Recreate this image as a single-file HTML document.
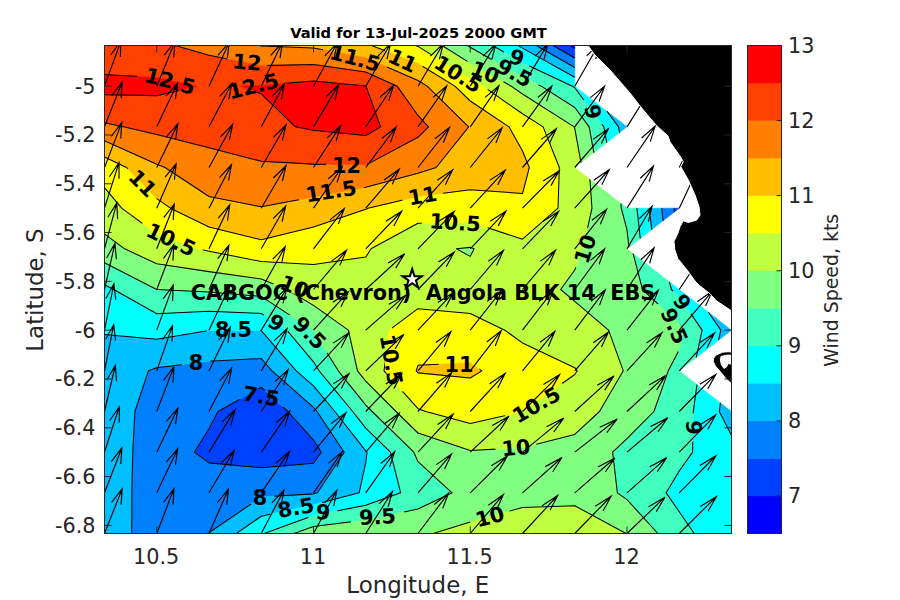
<!DOCTYPE html>
<html><head><meta charset="utf-8"><title>Wind Speed</title>
<style>html,body{margin:0;padding:0;background:#fff;overflow:hidden}body{width:900px;height:600px;position:relative}</style></head>
<body>
<svg width="900" height="600" viewBox="0 0 900 600" style="position:absolute;left:0;top:0;font-family:'DejaVu Sans','Liberation Sans',sans-serif">
<defs><clipPath id="ax"><rect x="104.5" y="45.5" width="627" height="488"/></clipPath>
<mask id="lm" maskUnits="userSpaceOnUse" x="0" y="0" width="900" height="600"><rect x="0" y="0" width="900" height="600" fill="#fff"/><rect x="137" y="75" width="66" height="13" transform="rotate(15 170 81.5)" fill="#000"/><rect x="220.5" y="80" width="66" height="13" transform="rotate(-14 253.5 86.5)" fill="#000"/><rect x="226.5" y="56" width="41" height="13" transform="rotate(5 247 62.5)" fill="#000"/><rect x="322" y="52" width="66" height="13" transform="rotate(15 355 58.5)" fill="#000"/><rect x="382" y="54.5" width="41" height="13" transform="rotate(25 402.5 61)" fill="#000"/><rect x="425" y="67.9" width="66" height="13" transform="rotate(32 458 74.4)" fill="#000"/><rect x="464.5" y="66.1" width="41" height="13" transform="rotate(22 485 72.6)" fill="#000"/><rect x="487.65" y="66.7" width="53.5" height="13" transform="rotate(28 514.4 73.2)" fill="#000"/><rect x="502.55" y="51.5" width="28.5" height="13" transform="rotate(20 516.8 58)" fill="#000"/><rect x="578.45" y="105.5" width="28.5" height="13" transform="rotate(75 592.7 112)" fill="#000"/><rect x="326" y="159" width="41" height="13" transform="rotate(0 346.5 165.5)" fill="#000"/><rect x="298" y="185" width="66" height="13" transform="rotate(-9 331 191.5)" fill="#000"/><rect x="122" y="177" width="41" height="13" transform="rotate(45 142.5 183.5)" fill="#000"/><rect x="402" y="189.5" width="41" height="13" transform="rotate(-10 422.5 196)" fill="#000"/><rect x="138" y="233.5" width="66" height="13" transform="rotate(25 171 240)" fill="#000"/><rect x="422" y="216.3" width="66" height="13" transform="rotate(4 455 222.8)" fill="#000"/><rect x="565" y="242.5" width="41" height="13" transform="rotate(-72 585.5 249)" fill="#000"/><rect x="274" y="280.5" width="41" height="13" transform="rotate(22 294.5 287)" fill="#000"/><rect x="261.75" y="316.5" width="28.5" height="13" transform="rotate(30 276 323)" fill="#000"/><rect x="282.75" y="326.5" width="53.5" height="13" transform="rotate(45 309.5 333)" fill="#000"/><rect x="206.75" y="323.5" width="53.5" height="13" transform="rotate(0 233.5 330)" fill="#000"/><rect x="181.75" y="356" width="28.5" height="13" transform="rotate(0 196 362.5)" fill="#000"/><rect x="234.25" y="390" width="53.5" height="13" transform="rotate(10 261 396.5)" fill="#000"/><rect x="358" y="353.5" width="66" height="13" transform="rotate(80 391 360)" fill="#000"/><rect x="438.5" y="358" width="41" height="13" transform="rotate(0 459 364.5)" fill="#000"/><rect x="503.5" y="398.5" width="66" height="13" transform="rotate(-30 536.5 405)" fill="#000"/><rect x="495.5" y="441.5" width="41" height="13" transform="rotate(-5 516 448)" fill="#000"/><rect x="469.5" y="510.5" width="41" height="13" transform="rotate(-15 490 517)" fill="#000"/><rect x="350.75" y="510.5" width="53.5" height="13" transform="rotate(-3 377.5 517)" fill="#000"/><rect x="308.75" y="506" width="28.5" height="13" transform="rotate(5 323 512.5)" fill="#000"/><rect x="269.25" y="501.5" width="53.5" height="13" transform="rotate(-10 296 508)" fill="#000"/><rect x="245.75" y="491" width="28.5" height="13" transform="rotate(0 260 497.5)" fill="#000"/><rect x="678.25" y="421" width="28.5" height="13" transform="rotate(90 692.5 427.5)" fill="#000"/><rect x="667.75" y="296" width="28.5" height="13" transform="rotate(55 682 302.5)" fill="#000"/><rect x="647.25" y="319.5" width="53.5" height="13" transform="rotate(66 674 326)" fill="#000"/></mask></defs>
<rect x="0" y="0" width="900" height="600" fill="#fff"/>
<g clip-path="url(#ax)">
<g><path fill="#0000ff" stroke="#0000ff" stroke-width="0.6" fill-rule="evenodd" d="M569.96 45.5L574.75 45.5L574.75 48.25L569.96 45.5Z"/><path fill="#0040ff" stroke="#0040ff" stroke-width="0.6" fill-rule="evenodd" d="M553.13 45.5L569.96 45.5L574.75 48.25L574.75 57.92L553.13 45.5ZM674.04 208.17L679.25 208.17L674.45 211.9L674.04 208.17ZM218.05 411.5L261.25 387.2L287.84 411.5L313.5 440.04L321.29 452.17L313.5 463.29L261.25 467.69L209 462.87L194.33 452.17L209 428.71L218.05 411.5Z"/><path fill="#0080ff" stroke="#0080ff" stroke-width="0.6" fill-rule="evenodd" d="M536.3 45.5L553.13 45.5L574.75 57.92L574.75 67.58L536.3 45.5ZM661.67 208.17L674.04 208.17L674.45 211.9L663.07 220.76L661.67 208.17ZM148.42 370.83L156.75 367.77L209 361.33L261.25 358.52L271.96 370.83L313.5 407.28L317.03 411.5L344.15 452.17L317.44 492.83L313.5 493.86L261.25 497.02L209 532.73L207.15 533.5L156.75 533.5L131.68 533.5L131.89 492.83L132.75 452.17L134.94 411.5L148.42 370.83ZM261.25 387.2L218.05 411.5L209 428.71L194.33 452.17L209 462.87L261.25 467.69L313.5 463.29L321.29 452.17L313.5 440.04L287.84 411.5L261.25 387.2Z"/><path fill="#00bfff" stroke="#00bfff" stroke-width="0.6" fill-rule="evenodd" d="M517.94 45.5L522.5 45.5L536.3 45.5L574.75 67.58L574.75 77.25L522.5 48.14L517.94 45.5ZM606.89 111.18L627 126.83L619.58 132.61L618.53 126.83L606.89 111.18ZM649.31 208.17L661.67 208.17L663.07 220.76L651.69 229.62L649.31 208.17ZM708.43 312.21L731.5 330.17L718.6 340.21L720.78 330.17L708.43 312.21ZM104.5 370.83L104.5 334.49L156.75 339.24L209 330.49L261.25 330.55L296.28 370.83L313.5 385.94L334.86 411.5L365.75 450.92L367.03 452.17L365.75 462.6L359.12 492.83L313.5 504.72L261.25 516.21L236.4 533.5L209 533.5L207.15 533.5L209 532.73L261.25 497.02L313.5 493.86L317.44 492.83L344.15 452.17L317.03 411.5L313.5 407.28L271.96 370.83L261.25 358.52L209 361.33L156.75 367.77L148.42 370.83L134.94 411.5L132.75 452.17L131.89 492.83L131.68 533.5L104.5 533.5L104.5 492.83L104.5 452.17L104.5 411.5L104.5 370.83ZM720.48 402.92L731.5 411.5L731.5 435.61L719.29 411.5L720.48 402.92Z"/><path fill="#00ffff" stroke="#00ffff" stroke-width="0.6" fill-rule="evenodd" d="M492.68 45.5L517.94 45.5L522.5 48.14L574.75 77.25L574.75 86.17L606.89 111.18L618.53 126.83L619.58 132.61L606.72 142.62L603.84 126.83L574.75 87.71L572.33 86.17L522.5 62.75L492.68 45.5ZM636.94 208.17L649.31 208.17L651.69 229.62L640.31 238.47L636.94 208.17ZM104.5 289.5L104.5 284.78L113.7 289.5L156.75 313.7L209 311.15L261.25 313.4L286.83 330.17L313.5 361.84L319.1 370.83L352.69 411.5L365.75 428.17L390.42 452.17L400.67 492.83L365.75 505.24L313.5 515.58L264.21 533.5L261.25 533.5L236.4 533.5L261.25 516.21L313.5 504.72L359.12 492.83L365.75 462.6L367.03 452.17L365.75 450.92L334.86 411.5L313.5 385.94L296.28 370.83L261.25 330.55L209 330.49L156.75 339.24L104.5 334.49L104.5 330.17L104.5 289.5ZM669.38 281.82L679.25 289.5L708.43 312.21L720.78 330.17L718.6 340.21L696.18 357.66L702.15 330.17L679.25 296.88L671.38 289.5L669.38 281.82ZM696.99 384.64L720.48 402.92L719.29 411.5L731.5 435.61L731.5 452.17L731.5 492.83L731.5 533.5L694.2 533.5L679.25 511.72L666.15 492.83L679.25 471.06L692.6 452.17L693.29 411.5L696.99 384.64Z"/><path fill="#40ffbf" stroke="#40ffbf" stroke-width="0.6" fill-rule="evenodd" d="M467.4 45.5L470.25 45.5L492.68 45.5L522.5 62.75L572.33 86.17L574.75 87.71L603.84 126.83L606.72 142.62L593.86 152.63L589.16 126.83L574.75 107.46L541.23 86.17L522.5 77.37L470.25 47.28L467.4 45.5ZM620.92 203.43L627 208.17L636.94 208.17L640.31 238.47L628.93 247.33L627 229.95L621.27 208.17L620.92 203.43ZM104.5 284.78L104.5 262.76L156.67 289.5L156.75 289.54L209 291.93L261.25 296.41L312.77 330.17L313.5 331.04L338.29 370.83L365.75 405.1L372.13 411.5L413.81 452.17L418 461.72L452.1 492.83L418 508.92L365.75 520L313.5 526.44L294.09 533.5L264.21 533.5L313.5 515.58L365.75 505.24L400.67 492.83L390.42 452.17L365.75 428.17L352.69 411.5L319.1 370.83L313.5 361.84L286.83 330.17L261.25 313.4L209 311.15L156.75 313.7L113.7 289.5L104.5 284.78ZM633.15 253.62L669.38 281.82L671.38 289.5L679.25 296.88L702.15 330.17L696.18 357.66L679.25 370.83L696.99 384.64L693.29 411.5L692.6 452.17L679.25 471.06L666.15 492.83L679.25 511.72L694.2 533.5L679.25 533.5L657.85 533.5L627 499.59L617.39 492.83L612.61 452.17L627 438.62L653.94 411.5L668.26 370.83L679.25 349.81L683.52 330.17L679.25 323.97L642.5 289.5L633.15 253.62Z"/><path fill="#80ff80" stroke="#80ff80" stroke-width="0.6" fill-rule="evenodd" d="M442.01 45.5L467.4 45.5L470.25 47.28L522.5 77.37L541.23 86.17L574.75 107.46L589.16 126.83L593.86 152.63L581 162.64L574.75 128.37L574.16 126.83L522.5 94.01L511.24 86.17L470.25 63.16L442.01 45.5ZM589.85 179.25L620.92 203.43L621.27 208.17L627 229.95L628.93 247.33L627 248.83L633.15 253.62L642.5 289.5L679.25 323.97L683.52 330.17L679.25 349.81L668.26 370.83L653.94 411.5L627 438.62L612.61 452.17L617.39 492.83L627 499.59L657.85 533.5L627 533.5L626.13 533.5L574.75 505.74L522.5 507.49L470.25 522.12L433.13 533.5L418 533.5L365.75 533.5L313.5 533.5L294.09 533.5L313.5 526.44L365.75 520L418 508.92L452.1 492.83L418 461.72L413.81 452.17L372.13 411.5L365.75 405.1L338.29 370.83L313.5 331.04L312.77 330.17L261.25 296.41L209 291.93L156.75 289.54L156.67 289.5L104.5 262.76L104.5 248.83L104.5 234.04L124.7 248.83L156.75 263.83L209 271.64L261.25 279.08L286.81 289.5L313.5 305.33L348.34 330.17L357.48 370.83L365.75 381.15L396.01 411.5L418 433L470.25 450.46L522.5 447.72L574.75 434.39L599.49 411.5L623.31 370.83L608.5 330.17L574.75 301.36L560.64 289.5L574.75 270.01L582.99 248.83L592 208.17L589.85 179.25ZM456.4 248.83L470.25 247.37L474.1 248.83L470.25 256.37L456.4 248.83Z"/><path fill="#bfff40" stroke="#bfff40" stroke-width="0.6" fill-rule="evenodd" d="M415.62 45.5L418 45.5L442.01 45.5L470.25 63.16L511.24 86.17L522.5 94.01L574.16 126.83L574.75 128.37L581 162.64L574.75 167.5L589.85 179.25L592 208.17L582.99 248.83L574.75 270.01L560.64 289.5L574.75 301.36L608.5 330.17L623.31 370.83L599.49 411.5L574.75 434.39L522.5 447.72L470.25 450.46L418 433L396.01 411.5L365.75 381.15L357.48 370.83L348.34 330.17L313.5 305.33L286.81 289.5L261.25 279.08L209 271.64L156.75 263.83L124.7 248.83L104.5 234.04L104.5 208.17L104.5 187.69L121.68 208.17L156.75 234.04L197.71 248.83L209 251.18L261.25 261.51L313.5 264.4L365.75 257.1L371 248.83L418 223.24L470.25 222.1L522.5 239.19L558.02 208.17L559.33 167.5L543.14 126.83L522.5 113.72L482.94 86.17L470.25 79.05L418 46.42L415.62 45.5ZM418 308.69L389.14 330.17L384.03 370.83L418 408.69L425.82 411.5L470.25 423.53L522.5 411.59L522.74 411.5L574.75 374.55L577.26 370.83L574.75 367.7L522.5 342.92L504.79 330.17L470.25 313.45L418 308.69ZM470.25 247.37L456.4 248.83L470.25 256.37L474.1 248.83L470.25 247.37ZM433.13 533.5L470.25 522.12L522.5 507.49L574.75 505.74L626.13 533.5L574.75 533.5L522.5 533.5L470.25 533.5L433.13 533.5Z"/><path fill="#ffff00" stroke="#ffff00" stroke-width="0.6" fill-rule="evenodd" d="M371.57 45.5L415.62 45.5L418 46.42L470.25 79.05L482.94 86.17L522.5 113.72L543.14 126.83L559.33 167.5L558.02 208.17L522.5 239.19L470.25 222.1L418 223.24L371 248.83L365.75 257.1L313.5 264.4L261.25 261.51L209 251.18L197.71 248.83L156.75 234.04L121.68 208.17L104.5 187.69L104.5 167.5L104.5 156.96L126.52 167.5L156.75 198.67L170.41 208.17L209 227.02L261.25 239.77L313.5 227L365.75 209.17L368.02 208.17L418 196.43L470.25 189.65L522.5 193.52L529.33 167.5L522.5 151.04L509 126.83L470.25 101L454.93 86.17L418 63.48L371.57 45.5ZM389.14 330.17L418 308.69L470.25 313.45L504.79 330.17L522.5 342.92L574.75 367.7L577.26 370.83L574.75 374.55L522.74 411.5L522.5 411.59L470.25 423.53L425.82 411.5L418 408.69L384.03 370.83L389.14 330.17ZM418 365.32L416.16 370.83L418 372.89L470.25 378L481.82 370.83L470.25 362.79L418 365.32Z"/><path fill="#ffbf00" stroke="#ffbf00" stroke-width="0.6" fill-rule="evenodd" d="M259.53 45.5L261.25 45.5L313.5 45.5L365.75 45.5L371.57 45.5L418 63.48L454.93 86.17L470.25 101L509 126.83L522.5 151.04L529.33 167.5L522.5 193.52L470.25 189.65L418 196.43L368.02 208.17L365.75 209.17L313.5 227L261.25 239.77L209 227.02L170.41 208.17L156.75 198.67L126.52 167.5L104.5 156.96L104.5 140.69L156.75 164.21L165.07 167.5L209 196.51L261.25 206.84L313.5 196.98L365.75 187.21L418 173.23L436.16 167.5L468.66 126.83L427.17 86.17L418 80.54L365.75 57.78L313.5 47.97L261.25 45.97L259.53 45.5ZM416.16 370.83L418 365.32L470.25 362.79L481.82 370.83L470.25 378L418 372.89L416.16 370.83Z"/><path fill="#ff8000" stroke="#ff8000" stroke-width="0.6" fill-rule="evenodd" d="M175.12 45.5L209 45.5L259.53 45.5L261.25 45.97L313.5 47.97L365.75 57.78L418 80.54L427.17 86.17L468.66 126.83L436.16 167.5L418 173.23L365.75 187.21L313.5 196.98L261.25 206.84L209 196.51L165.07 167.5L156.75 164.21L104.5 140.69L104.5 126.83L104.5 122.68L123.56 126.83L156.75 134.51L209 147.65L261.25 161.31L313.5 164.11L365.75 165.11L418 137.28L428.47 126.83L418 115.44L397.13 86.17L365.75 71.92L313.5 64.46L261.25 65.63L209 55.34L175.12 45.5Z"/><path fill="#ff4000" stroke="#ff4000" stroke-width="0.6" fill-rule="evenodd" d="M104.5 45.5L156.75 45.5L175.12 45.5L209 55.34L261.25 65.63L313.5 64.46L365.75 71.92L397.13 86.17L418 115.44L428.47 126.83L418 137.28L365.75 165.11L313.5 164.11L261.25 161.31L209 147.65L156.75 134.51L123.56 126.83L104.5 122.68L104.5 94.7L156.75 95.64L196.7 86.17L156.75 77.56L104.5 74.43L104.5 45.5ZM261.25 85.28L240.69 86.17L261.25 93.77L295.45 126.83L313.5 130.32L365.75 135.54L380.63 126.83L365.98 86.17L365.75 86.06L313.5 80.95L261.25 85.28Z"/><path fill="#ff0000" stroke="#ff0000" stroke-width="0.6" fill-rule="evenodd" d="M104.5 86.17L104.5 74.43L156.75 77.56L196.7 86.17L156.75 95.64L104.5 94.7L104.5 86.17ZM240.69 86.17L261.25 85.28L313.5 80.95L365.75 86.06L365.98 86.17L380.63 126.83L365.75 135.54L313.5 130.32L295.45 126.83L261.25 93.77L240.69 86.17Z"/></g>
<g mask="url(#lm)"><path fill="none" stroke="#000" stroke-width="1.05" stroke-linejoin="round" d="M569.96 45.5L574.75 48.25M553.13 45.5L574.75 57.92M674.04 208.17L674.45 211.9M261.25 387.2L218.05 411.5L209 428.71L194.33 452.17L209 462.87L261.25 467.69L313.5 463.29L321.29 452.17L313.5 440.04L287.84 411.5L261.25 387.2M536.3 45.5L574.75 67.58M661.67 208.17L663.07 220.76M207.15 533.5L209 532.73L261.25 497.02L313.5 493.86L317.44 492.83L344.15 452.17L317.03 411.5L313.5 407.28L271.96 370.83L261.25 358.52L209 361.33L156.75 367.77L148.42 370.83L134.94 411.5L132.75 452.17L131.89 492.83L131.68 533.5M517.94 45.5L522.5 48.14L574.75 77.25M606.89 111.18L618.53 126.83L619.58 132.61M649.31 208.17L651.69 229.62M708.43 312.21L720.78 330.17L718.6 340.21M720.48 402.92L719.29 411.5L731.5 435.61M236.4 533.5L261.25 516.21L313.5 504.72L359.12 492.83L365.75 462.6L367.03 452.17L365.75 450.92L334.86 411.5L313.5 385.94L296.28 370.83L261.25 330.55L209 330.49L156.75 339.24L104.5 334.49M492.68 45.5L522.5 62.75L572.33 86.17L574.75 87.71L603.84 126.83L606.72 142.62M636.94 208.17L640.31 238.47M669.38 281.82L671.38 289.5L679.25 296.88L702.15 330.17L696.18 357.66M696.99 384.64L693.29 411.5L692.6 452.17L679.25 471.06L666.15 492.83L679.25 511.72L694.2 533.5M264.21 533.5L313.5 515.58L365.75 505.24L400.67 492.83L390.42 452.17L365.75 428.17L352.69 411.5L319.1 370.83L313.5 361.84L286.83 330.17L261.25 313.4L209 311.15L156.75 313.7L113.7 289.5L104.5 284.78M467.4 45.5L470.25 47.28L522.5 77.37L541.23 86.17L574.75 107.46L589.16 126.83L593.86 152.63M620.92 203.43L621.27 208.17L627 229.95L628.93 247.33M633.15 253.62L642.5 289.5L679.25 323.97L683.52 330.17L679.25 349.81L668.26 370.83L653.94 411.5L627 438.62L612.61 452.17L617.39 492.83L627 499.59L657.85 533.5M294.09 533.5L313.5 526.44L365.75 520L418 508.92L452.1 492.83L418 461.72L413.81 452.17L372.13 411.5L365.75 405.1L338.29 370.83L313.5 331.04L312.77 330.17L261.25 296.41L209 291.93L156.75 289.54L156.67 289.5L104.5 262.76M442.01 45.5L470.25 63.16L511.24 86.17L522.5 94.01L574.16 126.83L574.75 128.37L581 162.64M589.85 179.25L592 208.17L582.99 248.83L574.75 270.01L560.64 289.5L574.75 301.36L608.5 330.17L623.31 370.83L599.49 411.5L574.75 434.39L522.5 447.72L470.25 450.46L418 433L396.01 411.5L365.75 381.15L357.48 370.83L348.34 330.17L313.5 305.33L286.81 289.5L261.25 279.08L209 271.64L156.75 263.83L124.7 248.83L104.5 234.04M470.25 247.37L456.4 248.83L470.25 256.37L474.1 248.83L470.25 247.37M433.13 533.5L470.25 522.12L522.5 507.49L574.75 505.74L626.13 533.5M415.62 45.5L418 46.42L470.25 79.05L482.94 86.17L522.5 113.72L543.14 126.83L559.33 167.5L558.02 208.17L522.5 239.19L470.25 222.1L418 223.24L371 248.83L365.75 257.1L313.5 264.4L261.25 261.51L209 251.18L197.71 248.83L156.75 234.04L121.68 208.17L104.5 187.69M389.14 330.17L418 308.69L470.25 313.45L504.79 330.17L522.5 342.92L574.75 367.7L577.26 370.83L574.75 374.55L522.74 411.5L522.5 411.59L470.25 423.53L425.82 411.5L418 408.69L384.03 370.83L389.14 330.17M371.57 45.5L418 63.48L454.93 86.17L470.25 101L509 126.83L522.5 151.04L529.33 167.5L522.5 193.52L470.25 189.65L418 196.43L368.02 208.17L365.75 209.17L313.5 227L261.25 239.77L209 227.02L170.41 208.17L156.75 198.67L126.52 167.5L104.5 156.96M416.16 370.83L418 365.32L470.25 362.79L481.82 370.83L470.25 378L418 372.89L416.16 370.83M259.53 45.5L261.25 45.97L313.5 47.97L365.75 57.78L418 80.54L427.17 86.17L468.66 126.83L436.16 167.5L418 173.23L365.75 187.21L313.5 196.98L261.25 206.84L209 196.51L165.07 167.5L156.75 164.21L104.5 140.69M175.12 45.5L209 55.34L261.25 65.63L313.5 64.46L365.75 71.92L397.13 86.17L418 115.44L428.47 126.83L418 137.28L365.75 165.11L313.5 164.11L261.25 161.31L209 147.65L156.75 134.51L123.56 126.83L104.5 122.68M104.5 74.43L156.75 77.56L196.7 86.17L156.75 95.64L104.5 94.7M240.69 86.17L261.25 85.28L313.5 80.95L365.75 86.06L365.98 86.17L380.63 126.83L365.75 135.54L313.5 130.32L295.45 126.83L261.25 93.77L240.69 86.17"/></g>
<path fill="none" stroke="#000" stroke-width="1.15" stroke-linejoin="miter" d="M104.5 45.5L119.06 0.04M109.44 14.11L119.06 0.04L119.08 15.98M156.75 45.5L173.01 0.39M162.86 14.23L173.01 0.39L172.43 16.32M209 45.5L226.88 0.77M216.24 14.38L226.88 0.77L225.72 16.68M261.25 45.5L280.52 1.12M269.46 14.53L280.52 1.12L278.87 17M313.5 45.5L334.44 1.58M322.88 14.73L334.44 1.58L332.19 17.42M365.75 45.5L387.64 1.86M375.79 14.86L387.64 1.86L385.04 17.67M418 45.5L440.17 1.95M428.24 14.9L440.17 1.95L437.47 17.74M470.25 45.5L492.5 1.97M480.55 14.91L492.5 1.97L489.77 17.76M522.5 45.5L544.33 1.84M532.5 14.85L544.33 1.84L541.75 17.65M574.75 45.5L595.56 1.54M584.03 14.71L595.56 1.54L593.35 17.38M104.5 86.17L120.96 41.11M110.75 54.92L120.96 41.11L120.31 57.03M156.75 86.17L175.01 41.53M164.25 55.09L175.01 41.53L173.72 57.43M209 86.17L229.37 42.08M217.97 55.32L229.37 42.08L227.32 57.94M261.25 86.17L282.39 42.3M270.77 55.42L282.39 42.3L280.07 58.14M313.5 86.17L337.18 43.1M324.8 55.79L337.18 43.1L333.93 58.83M365.75 86.17L390.65 43.51M377.91 55.99L390.65 43.51L386.95 59.19M418 86.17L443.25 43.64M430.41 56.05L443.25 43.64L439.42 59.29M470.25 86.17L495.87 43.77M482.92 56.12L495.87 43.77L491.91 59.41M522.5 86.17L547.98 43.72M535.07 56.09L547.98 43.72L544.07 59.37M574.75 86.17L599.36 43.41M586.71 55.94L599.36 43.41L595.77 59.1M104.5 126.83L122.2 82.06M111.61 95.7L122.2 82.06L121.1 97.97M156.75 126.83L177.61 82.89M166.07 96.05L177.61 82.89L175.39 98.73M209 126.83L231.75 83.46M219.65 96.31L231.75 83.46L228.84 99.24M261.25 126.83L284.49 83.62M272.24 96.39L284.49 83.62L281.4 99.37M313.5 126.83L338.91 84.36M326.02 96.75L338.91 84.36L335.03 100.01M365.75 126.83L393.56 85.29M379.98 97.21L393.56 85.29L388.79 100.78M418 126.83L446.82 85.71M432.95 97.43L446.82 85.71L441.67 101.13M470.25 126.83L498.97 85.66M485.13 97.41L498.97 85.66L493.86 101.09M522.5 126.83L551.88 85.95M537.85 97.55L551.88 85.95L546.52 101.33M574.75 126.83L604.56 86.13M590.41 97.65L604.56 86.13L599.03 101.48M627 126.83L653.41 84.73M640.23 96.93L653.41 84.73L649.15 100.32M104.5 167.5L121.74 122.61M111.29 136.32L121.74 122.61L120.81 138.53M156.75 167.5L177.96 123.66M166.31 136.76L177.96 123.66L175.61 139.49M209 167.5L232.64 124.41M220.27 137.12L232.64 124.41L229.4 140.15M261.25 167.5L286 124.79M273.3 137.3L286 124.79L282.36 140.48M313.5 167.5L340.63 125.68M327.25 137.74L340.63 125.68L336.11 141.22M365.75 167.5L396.16 127.07M381.84 138.46L396.16 127.07L390.41 142.37M418 167.5L449.45 127.56M434.84 138.72L449.45 127.56L443.31 142.76M470.25 167.5L502.17 127.78M487.42 138.84L502.17 127.78L495.85 142.94M522.5 167.5L556.33 128.75M541.06 139.37L556.33 128.75L549.27 143.71M574.75 167.5L608.37 128.64M593.16 139.31L608.37 128.64L601.39 143.62M627 167.5L655.22 126.12M641.52 137.96L655.22 126.12L650.29 141.59M679.25 167.5L701.06 123.84M689.24 136.84L701.06 123.84L698.49 139.65M104.5 208.17L119.01 162.7M109.4 176.77L119.01 162.7L119.04 178.64M156.75 208.17L176.15 163.82M165.05 177.21L176.15 163.82L174.45 179.7M209 208.17L231.43 164.69M219.42 177.6L231.43 164.69L228.64 180.48M261.25 208.17L286.07 165.49M273.35 177.98L286.07 165.49L282.4 181.16M313.5 208.17L342.18 166.98M328.35 178.73L342.18 166.98L337.08 182.41M365.75 208.17L399.24 169.24M384.06 179.93L399.24 169.24L392.31 184.23M418 208.17L452.68 169.88M437.18 180.29L452.68 169.88L445.3 184.74M470.25 208.17L505.26 170.06M489.67 180.39L505.26 170.06L497.75 184.88M522.5 208.17L559.12 170.99M543.1 180.91L559.12 170.99L550.98 185.61M574.75 208.17L609.2 169.75M593.76 180.22L609.2 169.75L601.9 184.64M627 208.17L653.46 166.09M640.27 178.28L653.46 166.09L649.19 181.67M679.25 208.17L699.85 164.15M688.39 177.35L699.85 164.15L697.72 180M104.5 248.83L116.8 202.97M107.88 217.32L116.8 202.97L117.6 218.9M156.75 248.83L174.25 204.01M163.72 217.68L174.25 204.01L173.23 219.92M209 248.83L229.74 204.85M218.23 218.04L229.74 204.85L227.56 220.7M261.25 248.83L285.68 206.02M273.08 218.58L285.68 206.02L282.16 221.72M313.5 248.83L344.32 208.59M329.89 219.89L344.32 208.59L338.42 223.85M365.75 248.83L401.71 211.26M385.86 221.35L401.71 211.26L393.82 225.97M418 248.83L454.26 211.44M438.33 221.45L454.26 211.44L446.26 226.11M470.25 248.83L505.96 211.12M490.18 221.27L505.96 211.12L498.17 225.86M522.5 248.83L558.66 211.38M542.76 221.42L558.66 211.38L550.7 226.06M574.75 248.83L606.7 209.13M591.95 220.18L606.7 209.13L600.36 224.28M627 248.83L652.07 206.24M639.28 218.69L652.07 206.24L648.31 221.91M104.5 289.5L114.94 243.36M106.61 257.92L114.94 243.36L116.39 259.26M156.75 289.5L173.81 244.57M163.42 258.3L173.81 244.57L172.94 260.49M209 289.5L228.86 245.28M217.62 258.59L228.86 245.28L227 261.15M261.25 289.5L285.23 246.53M272.76 259.17L285.23 246.53L281.87 262.25M313.5 289.5L346.53 250.33M331.48 261.14L346.53 250.33L339.78 265.38M365.75 289.5L404.71 253.79M388.07 263.07L404.71 253.79L395.64 268.08M418 289.5L454.22 252.08M438.3 262.1L454.22 252.08L446.23 266.75M470.25 289.5L503.4 250.4M488.32 261.17L503.4 250.4L496.61 265.43M522.5 289.5L555.5 250.32M540.45 261.13L555.5 250.32L548.76 265.37M574.75 289.5L604.67 248.85M590.49 260.34L604.67 248.85L599.11 264.19M627 289.5L654.14 247.68M640.75 259.74L654.14 247.68L649.62 263.23M679.25 289.5L706.94 247.9M693.39 259.85L706.94 247.9L702.21 263.41M104.5 330.17L113.92 283.9M105.91 298.56L113.92 283.9L115.71 299.77M156.75 330.17L173.23 285.11M163.02 298.92L173.23 285.11L172.57 301.04M209 330.17L229.57 286.14M218.12 299.35L229.57 286.14L227.45 301.99M261.25 330.17L287.02 287.83M274.03 300.15L287.02 287.83L283 303.46M313.5 330.17L348.38 291.98M332.82 302.35L348.38 291.98L340.92 306.82M365.75 330.17L405.79 295.19M388.87 304.16L405.79 295.19L396.28 309.3M418 330.17L453.51 292.34M437.78 302.54L453.51 292.34L445.8 307.1M470.25 330.17L501.73 290.24M487.11 301.39L501.73 290.24L495.58 305.44M522.5 330.17L553.44 289.98M538.97 301.26L553.44 289.98L547.49 305.23M574.75 330.17L605.37 289.83M590.99 301.18L605.37 289.83L599.54 305.11M627 330.17L658.37 290.18M643.78 301.36L658.37 290.18L652.26 305.39M679.25 330.17L712.34 291.03M697.27 301.82L712.34 291.03L705.57 306.07M731.5 330.17L763.21 290.35M748.53 301.45L763.21 290.35L756.97 305.52M104.5 370.83L113.69 324.53M105.75 339.22L113.69 324.53L115.56 340.4M156.75 370.83L172.49 325.62M162.5 339.53L172.49 325.62L172.09 341.55M209 370.83L230.36 327.03M218.67 340.12L230.36 327.03L227.95 342.86M261.25 370.83L287.1 328.53M274.09 340.83L287.1 328.53L283.06 344.15M313.5 370.83L348.72 332.85M333.07 343.12L348.72 332.85L341.13 347.64M365.75 370.83L403.76 334.51M387.36 344.05L403.76 334.51L395.06 348.93M418 370.83L450.9 331.6M435.88 342.44L450.9 331.6L444.2 346.66M470.25 370.83L501.25 330.67M486.76 341.94L501.25 330.67L495.27 345.92M522.5 370.83L554.9 331.35M540.02 342.3L554.9 331.35L548.39 346.46M574.75 370.83L608.48 332.03M593.24 342.67L608.48 332.03L601.46 347M627 370.83L662.02 332.73M646.42 343.05L662.02 332.73L654.5 347.55M679.25 370.83L714.63 332.93M698.94 343.17L714.63 332.93L706.97 347.71M104.5 411.5L115.29 365.41M106.84 379.93L115.29 365.41L116.61 381.31M156.75 411.5L173.91 366.6M163.48 380.31L173.91 366.6L173 382.52M209 411.5L231.61 368.08M219.55 380.96L231.61 368.08L228.75 383.86M261.25 411.5L288.13 369.58M274.81 381.69L288.13 369.58L283.7 385.14M313.5 411.5L348.98 373.65M333.26 383.86L348.98 373.65L341.28 388.42M365.75 411.5L401.72 373.94M385.87 384.02L401.72 373.94L393.83 388.64M418 411.5L451.6 372.63M436.39 383.3L451.6 372.63L444.63 387.61M470.25 411.5L505.16 373.33M489.59 383.69L505.16 373.33L497.68 388.17M522.5 411.5L559.59 374.61M543.44 384.4L559.59 374.61L551.26 389.16M574.75 411.5L613.92 375.93M597.22 385.15L613.92 375.93L604.76 390.18M627 411.5L665.64 375.58M649.08 384.95L665.64 375.58L656.7 389.92M679.25 411.5L715.84 374.3M699.82 384.23L715.84 374.3L707.71 388.93M731.5 411.5L765.97 373.1M750.53 383.56L765.97 373.1L758.67 387.98M104.5 452.17L119.32 406.76M109.61 420.79L119.32 406.76L119.24 422.7M156.75 452.17L177.83 408.29M166.22 421.41L177.83 408.29L175.53 424.12M209 452.17L234.96 409.9M221.91 422.18L234.96 409.9L230.87 425.51M261.25 452.17L289.86 410.95M276.05 422.71L289.86 410.95L284.79 426.39M313.5 452.17L345.96 412.71M331.06 423.65L345.96 412.71L339.43 427.82M365.75 452.17L399.2 413.22M384.04 423.92L399.2 413.22L392.29 428.22M418 452.17L453.19 414.16M437.55 424.44L453.19 414.16L445.61 428.96M470.25 452.17L508.84 416.21M492.29 425.6L508.84 416.21L499.92 430.56M522.5 452.17L563.78 418.07M546.55 426.67L563.78 418.07L553.77 431.98M574.75 452.17L617.26 419M599.72 427.21L617.26 419L606.75 432.67M627 452.17L667.79 417.71M650.67 426.46L667.79 417.71L657.98 431.7M679.25 452.17L715.76 414.92M699.76 424.87L715.76 414.92L707.66 429.55M731.5 452.17L765.87 413.71M750.45 424.19L765.87 413.71L758.61 428.61M104.5 492.83L121.81 447.96M111.34 461.66L121.81 447.96L120.85 463.88M156.75 492.83L177.66 448.9M166.1 462.06L177.66 448.9L175.42 464.74M209 492.83L234.3 450.32M221.44 462.73L234.3 450.32L230.45 465.98M261.25 492.83L289.42 451.43M275.73 463.29L289.42 451.43L284.51 466.9M313.5 492.83L342.18 451.65M328.35 463.4L342.18 451.65L337.08 467.08M365.75 492.83L394.7 451.76M380.79 463.46L394.7 451.76L389.5 467.17M418 492.83L451.59 453.96M436.38 464.63L451.59 453.96L444.63 468.94M470.25 492.83L507.42 455.99M491.25 465.76L507.42 455.99L499.06 470.53M522.5 492.83L562.01 457.49M545.23 466.62L562.01 457.49L552.72 471.69M574.75 492.83L614.94 457.96M597.98 466.89L614.94 457.96L605.38 472.05M627 492.83L666.72 457.63M649.88 466.7L666.72 457.63L657.34 471.8M679.25 492.83L716 455.73M699.94 465.61L716 455.73L707.81 470.33M731.5 492.83L766.3 454.61M750.76 464.99L766.3 454.61L758.87 469.46M104.5 533.5L122.18 488.72M111.6 502.36L122.18 488.72L121.09 504.63M156.75 533.5L173.98 488.61M163.53 502.32L173.98 488.61L173.05 504.53M209 533.5L228.43 489.16M217.32 502.55L228.43 489.16L226.72 505.04M261.25 533.5L283.96 490.11M271.86 502.97L283.96 490.11L281.06 505.89M313.5 533.5L336.83 490.31M324.55 503.07L336.83 490.31L333.71 506.06M365.75 533.5L392.43 491.51M379.17 503.65L392.43 491.51L388.08 507.08M418 533.5L448.51 493.12M434.16 504.48L448.51 493.12L442.73 508.4M470.25 533.5L503.46 494.43M488.36 505.19L503.46 494.43L496.64 509.45M522.5 533.5L557.68 495.49M542.04 505.77L557.68 495.49L550.1 510.29M574.75 533.5L611.16 496.19M595.19 506.17L611.16 496.19L603.1 510.84M627 533.5L664.95 497.14M648.57 506.7L664.95 497.14L656.28 511.58M679.25 533.5L716.4 496.64M700.24 506.42L716.4 496.64L708.05 511.19M731.5 533.5L766.94 495.63M751.23 505.85L766.94 495.63L759.26 510.41"/>
<path fill="#000" stroke="#fff" stroke-width="1.0" stroke-linejoin="round" d="M587 44L594 54L610 70L630 93L640 106L656 125L668 136L670 142L680 156L683.3 161.7L680.8 166.7L688.3 180L695 195L699 206.7L700 215L696.7 220L688.3 222.5L683.3 220.8L680 226.7L678 233L674 241.25L674.75 249.5L677.75 258.5L687.5 270.5L695 281L699.5 285.5L710 293.75L716 300.5L725 306.5L731.75 311L736 312L736 40L587 40Z"/>
<path fill="#000" stroke="#fff" stroke-width="1.0" stroke-linejoin="round" d="M713.3 358.7L716 355L722.7 352.2L728 351.7L733 352.2L733 355L726 355.3L721 356.5L720.3 360L721.5 365L724 368.5L726.5 367L728 363.5L733 364.5L733 385L726 378.7L720 371.3L715.3 366L713.3 361.3Z"/>
<g font-weight="bold" font-size="20.8" fill="#000"><text x="170" y="81.5" transform="rotate(15 170 81.5)" text-anchor="middle" dominant-baseline="central">12.5</text><text x="253.5" y="86.5" transform="rotate(-14 253.5 86.5)" text-anchor="middle" dominant-baseline="central">12.5</text><text x="247" y="62.5" transform="rotate(5 247 62.5)" text-anchor="middle" dominant-baseline="central">12</text><text x="355" y="58.5" transform="rotate(15 355 58.5)" text-anchor="middle" dominant-baseline="central">11.5</text><text x="402.5" y="61" transform="rotate(25 402.5 61)" text-anchor="middle" dominant-baseline="central">11</text><text x="458" y="74.4" transform="rotate(32 458 74.4)" text-anchor="middle" dominant-baseline="central">10.5</text><text x="485" y="72.6" transform="rotate(22 485 72.6)" text-anchor="middle" dominant-baseline="central">10</text><text x="514.4" y="73.2" transform="rotate(28 514.4 73.2)" text-anchor="middle" dominant-baseline="central">9.5</text><text x="516.8" y="58" transform="rotate(20 516.8 58)" text-anchor="middle" dominant-baseline="central">9</text><text x="592.7" y="112" transform="rotate(75 592.7 112)" text-anchor="middle" dominant-baseline="central">9</text><text x="346.5" y="165.5" transform="rotate(0 346.5 165.5)" text-anchor="middle" dominant-baseline="central">12</text><text x="331" y="191.5" transform="rotate(-9 331 191.5)" text-anchor="middle" dominant-baseline="central">11.5</text><text x="142.5" y="183.5" transform="rotate(45 142.5 183.5)" text-anchor="middle" dominant-baseline="central">11</text><text x="422.5" y="196" transform="rotate(-10 422.5 196)" text-anchor="middle" dominant-baseline="central">11</text><text x="171" y="240" transform="rotate(25 171 240)" text-anchor="middle" dominant-baseline="central">10.5</text><text x="455" y="222.8" transform="rotate(4 455 222.8)" text-anchor="middle" dominant-baseline="central">10.5</text><text x="585.5" y="249" transform="rotate(-72 585.5 249)" text-anchor="middle" dominant-baseline="central">10</text><text x="294.5" y="287" transform="rotate(22 294.5 287)" text-anchor="middle" dominant-baseline="central">10</text><text x="276" y="323" transform="rotate(30 276 323)" text-anchor="middle" dominant-baseline="central">9</text><text x="309.5" y="333" transform="rotate(45 309.5 333)" text-anchor="middle" dominant-baseline="central">9.5</text><text x="233.5" y="330" transform="rotate(0 233.5 330)" text-anchor="middle" dominant-baseline="central">8.5</text><text x="196" y="362.5" transform="rotate(0 196 362.5)" text-anchor="middle" dominant-baseline="central">8</text><text x="261" y="396.5" transform="rotate(10 261 396.5)" text-anchor="middle" dominant-baseline="central">7.5</text><text x="391" y="360" transform="rotate(80 391 360)" text-anchor="middle" dominant-baseline="central">10.5</text><text x="459" y="364.5" transform="rotate(0 459 364.5)" text-anchor="middle" dominant-baseline="central">11</text><text x="536.5" y="405" transform="rotate(-30 536.5 405)" text-anchor="middle" dominant-baseline="central">10.5</text><text x="516" y="448" transform="rotate(-5 516 448)" text-anchor="middle" dominant-baseline="central">10</text><text x="490" y="517" transform="rotate(-15 490 517)" text-anchor="middle" dominant-baseline="central">10</text><text x="377.5" y="517" transform="rotate(-3 377.5 517)" text-anchor="middle" dominant-baseline="central">9.5</text><text x="323" y="512.5" transform="rotate(5 323 512.5)" text-anchor="middle" dominant-baseline="central">9</text><text x="296" y="508" transform="rotate(-10 296 508)" text-anchor="middle" dominant-baseline="central">8.5</text><text x="260" y="497.5" transform="rotate(0 260 497.5)" text-anchor="middle" dominant-baseline="central">8</text><text x="692.5" y="427.5" transform="rotate(90 692.5 427.5)" text-anchor="middle" dominant-baseline="central">9</text><text x="682" y="302.5" transform="rotate(55 682 302.5)" text-anchor="middle" dominant-baseline="central">9</text><text x="674" y="326" transform="rotate(66 674 326)" text-anchor="middle" dominant-baseline="central">9.5</text></g>
<text x="423" y="299.5" font-weight="bold" font-size="20.8" text-anchor="middle" fill="#000">CABGOC (Chevron)&#160;&#160;Angola BLK 14&#160;&#160;EBS</text>
<path d="M412.2 269.1L414.49 276.15L421.9 276.15L415.91 280.5L418.2 287.55L412.2 283.2L406.2 287.55L408.49 280.5L402.5 276.15L409.91 276.15Z" fill="#fff" stroke="#000" stroke-width="2.0" stroke-linejoin="miter"/>
</g>
<path d="M156.75 533.5V526.5M156.75 45.5V52.5M313.5 533.5V526.5M313.5 45.5V52.5M470.25 533.5V526.5M470.25 45.5V52.5M627 533.5V526.5M627 45.5V52.5M104.5 86.17H111.5M731.5 86.17H724.5M104.5 134.97H111.5M731.5 134.97H724.5M104.5 183.77H111.5M731.5 183.77H724.5M104.5 232.57H111.5M731.5 232.57H724.5M104.5 281.37H111.5M731.5 281.37H724.5M104.5 330.17H111.5M731.5 330.17H724.5M104.5 378.97H111.5M731.5 378.97H724.5M104.5 427.77H111.5M731.5 427.77H724.5M104.5 476.57H111.5M731.5 476.57H724.5M104.5 525.37H111.5M731.5 525.37H724.5" stroke="#262626" stroke-width="1.0" fill="none"/>
<rect x="104.5" y="45.5" width="627" height="488" fill="none" stroke="#262626" stroke-width="1.0"/>
<g font-size="20.8" fill="#262626">
<text x="156.15" y="563.5" text-anchor="middle">10.5</text>
<text x="312.9" y="563.5" text-anchor="middle">11</text>
<text x="469.65" y="563.5" text-anchor="middle">11.5</text>
<text x="626.4" y="563.5" text-anchor="middle">12</text>
<text x="95.5" y="93.67" text-anchor="end">-5</text>
<text x="95.5" y="142.47" text-anchor="end">-5.2</text>
<text x="95.5" y="191.27" text-anchor="end">-5.4</text>
<text x="95.5" y="240.07" text-anchor="end">-5.6</text>
<text x="95.5" y="288.87" text-anchor="end">-5.8</text>
<text x="95.5" y="337.67" text-anchor="end">-6</text>
<text x="95.5" y="386.47" text-anchor="end">-6.2</text>
<text x="95.5" y="435.27" text-anchor="end">-6.4</text>
<text x="95.5" y="484.07" text-anchor="end">-6.6</text>
<text x="95.5" y="532.87" text-anchor="end">-6.8</text>
</g>
<rect x="747.5" y="495.76" width="34" height="37.94" fill="#0000ff"/><rect x="747.5" y="458.22" width="34" height="37.94" fill="#0040ff"/><rect x="747.5" y="420.68" width="34" height="37.94" fill="#0080ff"/><rect x="747.5" y="383.15" width="34" height="37.94" fill="#00bfff"/><rect x="747.5" y="345.61" width="34" height="37.94" fill="#00ffff"/><rect x="747.5" y="308.07" width="34" height="37.94" fill="#40ffbf"/><rect x="747.5" y="270.53" width="34" height="37.94" fill="#80ff80"/><rect x="747.5" y="232.99" width="34" height="37.94" fill="#bfff40"/><rect x="747.5" y="195.45" width="34" height="37.94" fill="#ffff00"/><rect x="747.5" y="157.92" width="34" height="37.94" fill="#ffbf00"/><rect x="747.5" y="120.38" width="34" height="37.94" fill="#ff8000"/><rect x="747.5" y="82.84" width="34" height="37.94" fill="#ff4000"/><rect x="747.5" y="45.3" width="34" height="37.94" fill="#ff0000"/>
<path d="M781.5 495.96H776.5M781.5 420.88H776.5M781.5 345.81H776.5M781.5 270.73H776.5M781.5 195.65H776.5M781.5 120.58H776.5M781.5 45.5H776.5" stroke="#262626" stroke-width="1.0" fill="none"/>
<rect x="747.5" y="45.5" width="34" height="488" fill="none" stroke="#262626" stroke-width="1.0"/>
<g font-size="20.8" fill="#262626">
<text x="788" y="503.46">7</text>
<text x="788" y="428.38">8</text>
<text x="788" y="353.31">9</text>
<text x="788" y="278.23">10</text>
<text x="788" y="203.15">11</text>
<text x="788" y="128.08">12</text>
<text x="788" y="53">13</text>
</g>
<g font-size="22.9" fill="#262626">
<text x="417.8" y="593" text-anchor="middle">Longitude, E</text>
<text transform="translate(42.5 290) rotate(-90)" text-anchor="middle">Latitude, S</text>
</g>
<text transform="translate(837.5 290.3) rotate(-90)" text-anchor="middle" font-size="18.9" fill="#262626">Wind Speed, kts</text>
<text x="418.5" y="38" text-anchor="middle" font-weight="bold" font-size="14.67" fill="#000">Valid for 13-Jul-2025 2000 GMT</text>
</svg>
</body></html>
